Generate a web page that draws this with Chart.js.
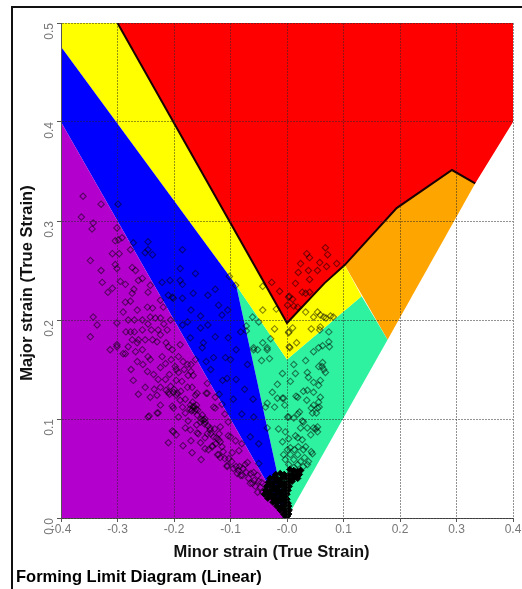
<!DOCTYPE html>
<html>
<head>
<meta charset="utf-8">
<title>Forming Limit Diagram</title>
<script src="https://cdn.jsdelivr.net/npm/chart.js@4"></script>
<style>
    html, body { margin: 0; padding: 0; background: #fff; overflow: hidden; }
    #frame { position: absolute; left: 11px; top: 6px; right: 0; bottom: 0; border-left: 2px solid #111; border-top: 2px solid #111; }
    #fld-chart { position: absolute; left: 0; top: 0; }
</style>
</head>
<body>
<div id="frame"></div>
<canvas id="fld-chart" width="522" height="589"></canvas>
<script>
// Forming limit diagram - strain zones with measured grid points on top

const xTickLabels = ['-0.4', '-0.3', '-0.2', '-0.1', '-0.0', '0.1', '0.2', '0.3', '0.4'];
const yTickLabels = ['0.0', '0.1', '0.2', '0.3', '0.4', '0.5'];

// zones as [minor, major]
const compressionZone = [[-0.4, 0], [-0.4, 0.4], [0, 0]];
const wrinkleZone = [[-0.4, 0.4], [-0.4, 0.476], [-0.09, 0.235], [0, 0]];
const marginalZone = [[-0.4, 0.476], [-0.4, 0.5], [-0.3, 0.5], [0, 0.197], [0.066, 0.237], [0.102, 0.2555], [0.132, 0.224], [0, 0.16], [-0.09, 0.235]];
const safeZone = [[0, 0], [-0.09, 0.235], [0, 0.16], [0.132, 0.224], [0.178, 0.18]];
const neckZone = [[0.102, 0.2555], [0.194, 0.313], [0.292, 0.3515], [0.333, 0.338], [0.178, 0.18]];
const failZone = [[-0.3, 0.5], [0.4, 0.5], [0.4, 0.4], [0.333, 0.338], [0.292, 0.3515], [0.194, 0.313], [0.102, 0.2555], [0.066, 0.237], [0, 0.197]];
const limitCurve = [[-0.3, 0.5], [0, 0.197], [0.066, 0.237], [0.102, 0.2555], [0.194, 0.313], [0.292, 0.3515], [0.333, 0.338]];

const pointsUpperLeft = [
    [-0.361, 0.325], [-0.329, 0.317], [-0.364, 0.304], [-0.343, 0.298], [-0.345, 0.292], [-0.301, 0.293], [-0.304, 0.28], [-0.292, 0.283],
    [-0.298, 0.281], [-0.272, 0.278], [-0.277, 0.271], [-0.348, 0.26], [-0.309, 0.267], [-0.297, 0.267], [-0.304, 0.256], [-0.301, 0.252],
    [-0.329, 0.25], [-0.327, 0.238], [-0.274, 0.253], [-0.268, 0.25], [-0.295, 0.239], [-0.286, 0.236], [-0.309, 0.232], [-0.317, 0.228],
    [-0.263, 0.24], [-0.256, 0.242], [-0.242, 0.235], [-0.274, 0.227], [-0.271, 0.231], [-0.246, 0.228], [-0.286, 0.218], [-0.224, 0.22],
    [-0.299, 0.317], [-0.246, 0.279], [-0.246, 0.271], [-0.251, 0.268], [-0.238, 0.266], [-0.185, 0.271], [-0.189, 0.252], [-0.207, 0.24],
    [-0.221, 0.238], [-0.189, 0.24], [-0.203, 0.223], [-0.185, 0.222], [-0.21, 0.225], [-0.162, 0.247], [-0.185, 0.236], [-0.127, 0.231],
    [-0.166, 0.227], [-0.201, 0.222], [-0.121, 0.215], [-0.153, 0.204], [-0.176, 0.198], [-0.153, 0.192], [-0.127, 0.183], [-0.104, 0.182],
    [-0.082, 0.188], [-0.171, 0.182], [-0.148, 0.177], [-0.189, 0.175], [-0.15, 0.172], [-0.109, 0.162], [-0.1, 0.16], [-0.114, 0.139],
    [-0.106, 0.141], [-0.13, 0.162], [-0.143, 0.158], [-0.059, 0.102]
];
const pointsLowerLeft = [
    [-0.29, 0.208], [-0.265, 0.21], [-0.301, 0.197], [-0.277, 0.219], [-0.247, 0.213], [-0.238, 0.212], [-0.242, 0.203], [-0.233, 0.202],
    [-0.224, 0.202], [-0.219, 0.213], [-0.256, 0.2], [-0.281, 0.2], [-0.277, 0.188], [-0.27, 0.188], [-0.256, 0.19], [-0.251, 0.18],
    [-0.228, 0.19], [-0.224, 0.185], [-0.23, 0.178], [-0.263, 0.18], [-0.265, 0.177], [-0.281, 0.173], [-0.256, 0.17], [-0.301, 0.175],
    [-0.313, 0.17], [-0.29, 0.166], [-0.203, 0.17], [-0.214, 0.177], [-0.21, 0.173], [-0.221, 0.163], [-0.246, 0.163], [-0.242, 0.16],
    [-0.265, 0.158], [-0.192, 0.163], [-0.184, 0.158], [-0.224, 0.152], [-0.247, 0.148], [-0.276, 0.15], [-0.272, 0.139], [-0.198, 0.153],
    [-0.196, 0.15], [-0.176, 0.155], [-0.175, 0.144], [-0.196, 0.139], [-0.251, 0.132], [-0.224, 0.132], [-0.21, 0.127], [-0.201, 0.127],
    [-0.194, 0.126], [-0.176, 0.132], [-0.263, 0.125], [-0.242, 0.122], [-0.23, 0.124], [-0.162, 0.124], [-0.224, 0.114], [-0.203, 0.113],
    [-0.201, 0.111], [-0.166, 0.112], [-0.171, 0.114], [-0.161, 0.11], [-0.168, 0.109], [-0.244, 0.103], [-0.228, 0.106], [-0.18, 0.106],
    [-0.189, 0.119], [-0.348, 0.183], [-0.343, 0.203], [-0.336, 0.195], [-0.286, 0.166], [-0.301, 0.173], [-0.21, 0.076], [-0.203, 0.088],
    [-0.196, 0.084], [-0.184, 0.073], [-0.168, 0.066], [-0.152, 0.059], [-0.139, 0.069], [-0.132, 0.072], [-0.121, 0.079], [-0.125, 0.081],
    [-0.118, 0.077], [-0.123, 0.064], [-0.118, 0.061], [-0.106, 0.052], [-0.113, 0.067], [-0.088, 0.045], [-0.082, 0.043], [-0.074, 0.054],
    [-0.065, 0.035], [-0.052, 0.026], [-0.091, 0.078], [-0.1, 0.082], [-0.118, 0.092], [-0.148, 0.099], [-0.159, 0.104], [-0.153, 0.097],
    [-0.18, 0.091], [-0.171, 0.089], [-0.159, 0.086], [-0.145, 0.081], [-0.136, 0.091], [-0.13, 0.082], [-0.127, 0.111], [-0.141, 0.126],
    [-0.159, 0.126], [-0.104, 0.097], [-0.065, 0.082], [-0.246, 0.102], [-0.23, 0.106], [-0.201, 0.087], [-0.157, 0.085], [-0.145, 0.097],
    [-0.136, 0.089], [-0.141, 0.085], [-0.104, 0.083], [-0.153, 0.076], [-0.145, 0.07], [-0.132, 0.073], [-0.121, 0.064], [-0.097, 0.066],
    [-0.106, 0.053], [-0.086, 0.048], [-0.079, 0.043], [-0.07, 0.056], [-0.061, 0.035], [-0.052, 0.043], [-0.047, 0.031], [-0.059, 0.046],
    [-0.141, 0.136], [-0.143, 0.126], [-0.13, 0.112], [-0.127, 0.122], [-0.145, 0.1], [-0.166, 0.144], [-0.168, 0.132]
];
// darker patches in the left band, where points sit on top of each other
const pointsDenseBand = [
    [-0.214, 0.129], [-0.208, 0.125], [-0.2, 0.13], [-0.206, 0.133], [-0.196, 0.124], [-0.188, 0.128], [-0.165, 0.113], [-0.169, 0.108],
    [-0.163, 0.108], [-0.16, 0.114], [-0.172, 0.11], [-0.167, 0.117], [-0.158, 0.109], [-0.152, 0.1], [-0.146, 0.095], [-0.15, 0.104],
    [-0.14, 0.093], [-0.135, 0.085], [-0.128, 0.09], [-0.12, 0.085], [-0.115, 0.072], [-0.126, 0.075], [-0.11, 0.06], [-0.103, 0.06],
    [-0.098, 0.057], [-0.095, 0.05], [-0.09, 0.052], [-0.084, 0.052], [-0.078, 0.05], [-0.072, 0.046], [-0.068, 0.04], [-0.064, 0.045],
    [-0.058, 0.038], [-0.056, 0.032], [-0.05, 0.037], [-0.045, 0.036], [-0.043, 0.026], [-0.208, 0.145], [-0.192, 0.147], [-0.186, 0.138],
    [-0.182, 0.15], [-0.17, 0.148], [-0.162, 0.16], [-0.205, 0.16], [-0.215, 0.156], [-0.238, 0.18], [-0.24, 0.19], [-0.246, 0.196],
    [-0.218, 0.196], [-0.212, 0.19], [-0.206, 0.2], [-0.27, 0.2], [-0.274, 0.18], [-0.285, 0.188], [-0.268, 0.168], [-0.255, 0.155],
    [-0.236, 0.145], [-0.228, 0.14], [-0.215, 0.14], [-0.235, 0.13], [-0.18, 0.12], [-0.185, 0.112], [-0.192, 0.102], [-0.175, 0.098],
    [-0.16, 0.094], [-0.17, 0.078], [-0.11, 0.105], [-0.115, 0.115], [-0.085, 0.068], [-0.08, 0.075], [-0.05, 0.055], [-0.185, 0.195],
    [-0.17, 0.21], [-0.14, 0.195], [-0.115, 0.205], [-0.14, 0.225], [-0.105, 0.21], [-0.17, 0.155], [-0.135, 0.15], [-0.12, 0.125],
    [-0.095, 0.12], [-0.09, 0.14], [-0.075, 0.13], [-0.08, 0.105], [-0.05, 0.075], [-0.06, 0.12], [-0.07, 0.155], [-0.09, 0.17]
];
const pointsRightUpper = [
    [-0.102, 0.244], [-0.091, 0.235], [-0.043, 0.234], [-0.027, 0.238], [-0.013, 0.229], [-0.043, 0.21], [-0.019, 0.211], [-0.022, 0.191],
    [0.003, 0.188], [-0.061, 0.203], [-0.05, 0.198], [-0.072, 0.194], [-0.072, 0.189], [-0.029, 0.181], [-0.043, 0.177], [-0.059, 0.172],
    [-0.035, 0.172], [0.003, 0.223], [0.001, 0.215], [0.068, 0.273], [0.035, 0.267], [0.04, 0.263], [0.072, 0.266], [0.024, 0.257],
    [0.058, 0.258], [0.088, 0.257], [0.07, 0.254], [0.054, 0.25], [0.038, 0.25], [0.02, 0.248], [0.04, 0.241], [0.015, 0.237],
    [0.027, 0.228], [0.04, 0.228], [0.033, 0.227], [0.004, 0.224], [0.01, 0.221], [0.012, 0.214], [0.019, 0.213], [0.033, 0.208],
    [0.054, 0.208], [0.047, 0.203], [0.059, 0.205], [0.065, 0.203], [0.069, 0.202], [0.077, 0.204], [0.082, 0.203], [0.01, 0.192],
    [0.003, 0.187], [0.043, 0.191], [0.059, 0.193], [0.058, 0.19], [0.017, 0.177], [0.004, 0.173], [0.005, 0.172]
];
const pointsRightLower = [
    [0.074, 0.188], [0.074, 0.178], [0.075, 0.173], [0.063, 0.174], [0.056, 0.172], [0.047, 0.168], [0.033, 0.159], [0.012, 0.155],
    [0.063, 0.157], [0.056, 0.153], [0.062, 0.153], [-0.059, 0.17], [-0.052, 0.17], [-0.035, 0.17], [-0.045, 0.159], [-0.031, 0.161],
    [-0.008, 0.146], [-0.017, 0.135], [-0.026, 0.127], [-0.017, 0.121], [-0.006, 0.121], [-0.035, 0.116], [-0.038, 0.112], [-0.022, 0.112],
    [0.001, 0.102], [-0.035, 0.091], [-0.015, 0.09], [-0.003, 0.087], [-0.008, 0.077], [0.015, 0.146], [0.006, 0.138], [0.036, 0.147],
    [0.038, 0.142], [0.047, 0.137], [0.056, 0.134], [0.059, 0.139], [0.068, 0.147], [0.065, 0.15], [-0.008, 0.121], [-0.004, 0.114],
    [0.019, 0.122], [0.016, 0.123], [0.029, 0.128], [0.036, 0.129], [0.047, 0.127], [0.035, 0.119], [0.059, 0.122], [0.056, 0.117],
    [0.047, 0.114], [0.043, 0.111], [0.054, 0.111], [0.057, 0.112], [0.045, 0.106], [0.052, 0.106], [0.003, 0.102], [0.012, 0.101],
    [0.019, 0.105], [0.022, 0.107], [0.029, 0.097], [0.027, 0.098], [0.036, 0.091], [0.024, 0.091], [0.047, 0.091], [0.054, 0.092],
    [0.051, 0.09], [0.042, 0.084], [0.054, 0.087], [0.003, 0.08], [0.015, 0.083], [0.019, 0.081], [0.027, 0.079], [0.033, 0.072],
    [0.006, 0.071], [0.001, 0.069], [0.013, 0.069], [0.02, 0.072], [0.029, 0.069], [0.043, 0.067], [0.045, 0.065], [-0.006, 0.064],
    [0.006, 0.064], [0.019, 0.064], [0.031, 0.061], [0.038, 0.057], [-0.003, 0.059], [0.012, 0.059], [0.024, 0.057], [0.003, 0.054],
    [0.019, 0.054], [0.029, 0.052], [0.036, 0.054], [0.012, 0.051], [0.024, 0.048]
];
// the solid cluster around the origin
const pointsOrigin = [
    [0.005, 0.049], [0.012, 0.048], [0.019, 0.047], [0.024, 0.048], [-0.02, 0.044], [-0.012, 0.045], [-0.005, 0.044], [0.002, 0.043],
    [0.009, 0.044], [0.016, 0.043], [0.022, 0.044], [-0.03, 0.04], [-0.023, 0.041], [-0.016, 0.039], [-0.009, 0.04], [-0.002, 0.041],
    [0.005, 0.039], [0.012, 0.04], [0.019, 0.04], [-0.033, 0.036], [-0.026, 0.035], [-0.019, 0.037], [-0.012, 0.036], [-0.005, 0.035],
    [0.002, 0.036], [0.009, 0.037], [-0.036, 0.032], [-0.029, 0.033], [-0.022, 0.031], [-0.015, 0.032], [-0.008, 0.033], [-0.001, 0.031],
    [0.004, 0.032], [-0.038, 0.028], [-0.031, 0.027], [-0.024, 0.029], [-0.017, 0.028], [-0.01, 0.027], [-0.003, 0.029], [0.002, 0.028],
    [-0.04, 0.024], [-0.033, 0.025], [-0.026, 0.023], [-0.019, 0.024], [-0.012, 0.025], [-0.005, 0.023], [0, 0.024], [-0.034, 0.02],
    [-0.027, 0.021], [-0.02, 0.019], [-0.013, 0.02], [-0.006, 0.021], [0, 0.019], [-0.025, 0.016], [-0.018, 0.015], [-0.011, 0.017],
    [-0.004, 0.016], [0.002, 0.015], [-0.018, 0.012], [-0.011, 0.011], [-0.004, 0.013], [0.003, 0.012], [-0.012, 0.008], [-0.005, 0.009],
    [0.002, 0.007], [0.004, 0.008], [-0.006, 0.004], [-0.001, 0.005], [0.003, 0.004], [-0.002, 0.001], [0.001, 0.002]
];

const ZONE_COLORS = {
    purple: '#b400cc',
    blue: '#0000ff',
    yellow: '#ffff00',
    green: '#2ef2a0',
    orange: '#ffa500',
    red: '#ff0000'
};

const TITLE_FONT = 'bold 16.5px "Liberation Sans"';

function zoneDataset(points, color) {
    return {
        data: points,
        showLine: true,
        fill: 'shape',
        backgroundColor: color,
        borderWidth: 0,
        pointRadius: 0,
        tension: 0,
        order: 3
    };
}

// axis titles sit off-centre in the original, the built-in ones can only centre on the scale
const axisTitles = {
    id: 'axisTitles',
    afterDraw(chart) {
        const { ctx } = chart;
        ctx.save();
        ctx.font = TITLE_FONT;
        ctx.fillStyle = '#111';
        ctx.textAlign = 'center';
        ctx.textBaseline = 'middle';
        ctx.fillText('Minor strain (True Strain)', 271.5, 552);
        ctx.translate(27, 283);
        ctx.rotate(-Math.PI / 2);
        ctx.fillText('Major strain (True Strain)', 0, 0);
        ctx.restore();
    }
};

const allPoints = [...pointsUpperLeft, ...pointsLowerLeft, ...pointsDenseBand, ...pointsRightUpper, ...pointsRightLower];

new Chart(document.getElementById('fld-chart').getContext('2d'), {
    type: 'scatter',
    plugins: [axisTitles],
    data: {
        datasets: [
            {
                data: pointsOrigin,
                pointStyle: 'rectRot',
                pointRadius: 3.2,
                pointBackgroundColor: '#000',
                pointBorderColor: '#000',
                pointBorderWidth: 1,
                order: 0
            },
            {
                data: allPoints,
                pointStyle: 'rectRot',
                pointRadius: 3.2,
                pointBackgroundColor: 'transparent',
                pointBorderColor: 'rgba(0, 0, 0, 0.5)',
                pointBorderWidth: 1.1,
                order: 1
            },
            {
                data: limitCurve,
                showLine: true,
                fill: false,
                borderColor: '#1a0000',
                borderWidth: 2,
                pointRadius: 0,
                tension: 0,
                order: 2
            },
            zoneDataset(compressionZone, ZONE_COLORS.purple),
            zoneDataset(wrinkleZone, ZONE_COLORS.blue),
            zoneDataset(marginalZone, ZONE_COLORS.yellow),
            zoneDataset(safeZone, ZONE_COLORS.green),
            zoneDataset(neckZone, ZONE_COLORS.orange),
            zoneDataset(failZone, ZONE_COLORS.red)
        ]
    },
    options: {
        responsive: false,
        animation: false,
        layout: { padding: { left: 16, right: 9, top: 23, bottom: 2 } },
        plugins: {
            legend: { display: false },
            tooltip: { enabled: false },
            title: {
                display: true,
                text: 'Forming Limit Diagram (Linear)',
                position: 'bottom',
                align: 'start',
                color: '#000',
                font: { family: '"Liberation Sans"', size: 16.5, weight: 'bold' },
                padding: { top: 2, bottom: 0 }
            }
        },
        scales: {
            x: {
                type: 'linear',
                min: -0.4,
                max: 0.4,
                afterFit: (scale) => { scale.height = 47.2; },
                afterBuildTicks: (scale) => { scale.ticks = xTickLabels.map(l => ({ value: parseFloat(l) })); },
                grid: { color: 'rgba(40, 40, 40, 0.5)', tickColor: '#555', tickLength: 4, z: 1 },
                border: { color: '#555', dash: [2, 1], z: 1 },
                ticks: {
                    color: '#777',
                    maxRotation: 0,
                    padding: 0,
                    font: { family: '"Liberation Sans"', size: 12 },
                    callback: (v, i) => xTickLabels[i]
                }
            },
            y: {
                type: 'linear',
                min: 0,
                max: 0.5,
                afterFit: (scale) => { scale.width = 45; },
                afterBuildTicks: (scale) => { scale.ticks = yTickLabels.map(l => ({ value: parseFloat(l) })); },
                grid: { color: 'rgba(40, 40, 40, 0.5)', tickColor: '#555', tickLength: 4, z: 1 },
                border: { color: '#555', dash: [2, 1], z: 1 },
                ticks: {
                    color: '#777',
                    minRotation: 90,
                    maxRotation: 90,
                    padding: 7,
                    font: { family: '"Liberation Sans"', size: 12 },
                    callback: (v, i) => yTickLabels[i]
                }
            }
        }
    }
});
</script>
</body>
</html>
